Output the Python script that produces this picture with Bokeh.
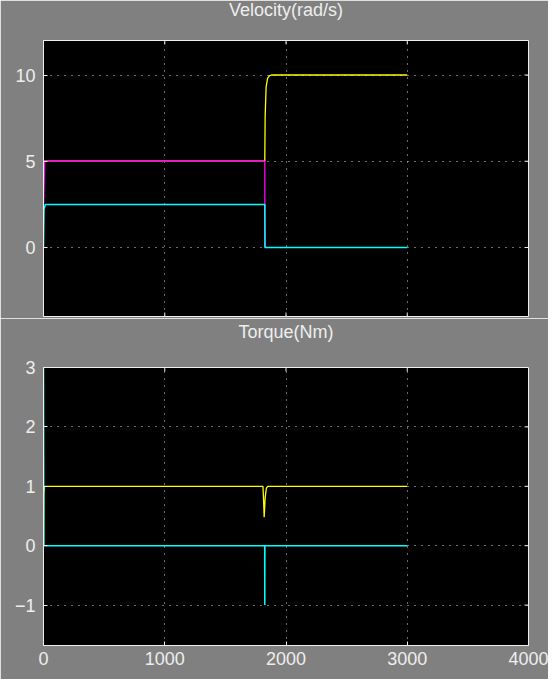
from bokeh.plotting import figure
from bokeh.layouts import column
from bokeh.models import FixedTicker
from bokeh.embed import file_html
from bokeh.resources import INLINE

# ---- data ----
# Velocity (rad/s)
vel_yellow_t = [0, 1825, 1828, 1836, 1848, 1862, 1880, 3000]
vel_yellow_v = [5, 5, 7.6, 9.3, 9.8, 9.95, 10, 10]
vel_magenta_t = [0, 10, 1825, 1826]
vel_magenta_v = [2.2, 5, 5, 0]
vel_cyan_t = [0, 4, 15, 1825, 1827, 3000]
vel_cyan_v = [0, 2.2, 2.5, 2.5, 0, 0]

# Torque (Nm)
tq_yellow_t = [0, 3, 8, 1810, 1815, 1820, 1828, 1838, 1850, 3000]
tq_yellow_v = [0, 0.88, 1, 1, 0.77, 0.48, 0.8, 0.97, 1, 1]
tq_cyan_t = [0, 3, 1824, 1825, 1826, 3000]
tq_cyan_v = [3, 0, 0, -1, 0, 0]

x_ticks = [0, 1000, 2000, 3000, 4000]
vel_ticks = [0, 5, 10]
tq_ticks = [-1, 0, 1, 2, 3]

BG = "#808080"
FG = "#eeeeee"
FONT = "Liberation Sans"
FS = "18px"
X_RANGE = (0, 4000)
TICK_PX = 4
W = 548
ML, MR = 43, 20


def make_fig(title, yr, yticks, height, mbt, mbb, xlabels, title_pad, title_standoff):
    p = figure(width=W, height=height, x_range=X_RANGE, y_range=yr,
               output_backend="svg", toolbar_location=None,
               min_border_left=ML, min_border_right=MR,
               min_border_top=mbt, min_border_bottom=mbb,
               background_fill_color="black", border_fill_color=BG,
               outline_line_color=FG)
    fw = W - ML - MR
    fh = height - mbt - mbb
    p.title.text = title
    p.title.align = "center"
    p.title.text_font = FONT
    p.title.text_font_size = FS
    p.title.text_font_style = "normal"
    p.title.text_color = FG
    p.title.standoff = title_standoff
    p.title.padding = dict(left=0, right=0, top=0, bottom=title_pad)
    p.xaxis.ticker = FixedTicker(ticks=x_ticks)
    p.yaxis.ticker = FixedTicker(ticks=yticks)
    for ax in p.axis:
        ax.major_tick_in = TICK_PX
        ax.major_tick_out = 0
        ax.minor_tick_in = 0
        ax.minor_tick_out = 0
        ax.axis_line_color = FG
        ax.major_tick_line_color = FG
        ax.major_label_text_color = FG
        ax.major_label_text_font = FONT
        ax.major_label_text_font_size = FS
    p.yaxis.major_label_standoff = 8
    p.xaxis.major_label_standoff = 6
    if not xlabels:
        p.xaxis.visible = False
    p.xgrid.ticker = FixedTicker(ticks=x_ticks[1:-1])
    p.ygrid.ticker = FixedTicker(ticks=yticks)
    for g in (p.xgrid, p.ygrid):
        g.grid_line_color = "#d8d8d8"
        g.grid_line_dash = "1 6"
        g.grid_line_width = 1

    # inside tick marks on the box edges without labels (top, right, and bottom if hidden)
    dx = (X_RANGE[1] - X_RANGE[0]) / fw * TICK_PX
    dy = (yr[1] - yr[0]) / fh * TICK_PX
    inner_x = x_ticks[1:-1]
    p.segment(x0=inner_x, x1=inner_x, y0=[yr[1]] * len(inner_x),
              y1=[yr[1] - dy] * len(inner_x), line_color=FG, line_width=1)
    if not xlabels:
        p.segment(x0=inner_x, x1=inner_x, y0=[yr[0]] * len(inner_x),
                  y1=[yr[0] + dy] * len(inner_x), line_color=FG, line_width=1)
    p.segment(x0=[X_RANGE[1]] * len(yticks), x1=[X_RANGE[1] - dx] * len(yticks),
              y0=yticks, y1=yticks, line_color=FG, line_width=1)
    return p


p1 = make_fig("Velocity(rad/s)", (-4, 12), vel_ticks, 318, 39, 2, False, 24, -6)
p1.line(vel_yellow_t, vel_yellow_v, line_color="#ffff00", line_width=1.3)
p1.line(vel_magenta_t, vel_magenta_v, line_color="#ff00ff", line_width=1.3)
p1.line(vel_cyan_t, vel_cyan_v, line_color="#00ffff", line_width=1.5)

p2 = make_fig("Torque(Nm)", (-1.68, 3), tq_ticks, 361, 49, 34, True, 26, 0)
p2.line(tq_yellow_t, tq_yellow_v, line_color="#ffff00", line_width=1.3)
p2.line(tq_cyan_t, tq_cyan_v, line_color="#00ffff", line_width=1.5)

layout = column(p1, p2, spacing=0)
open("out.html", "w").write(file_html(layout, INLINE))
